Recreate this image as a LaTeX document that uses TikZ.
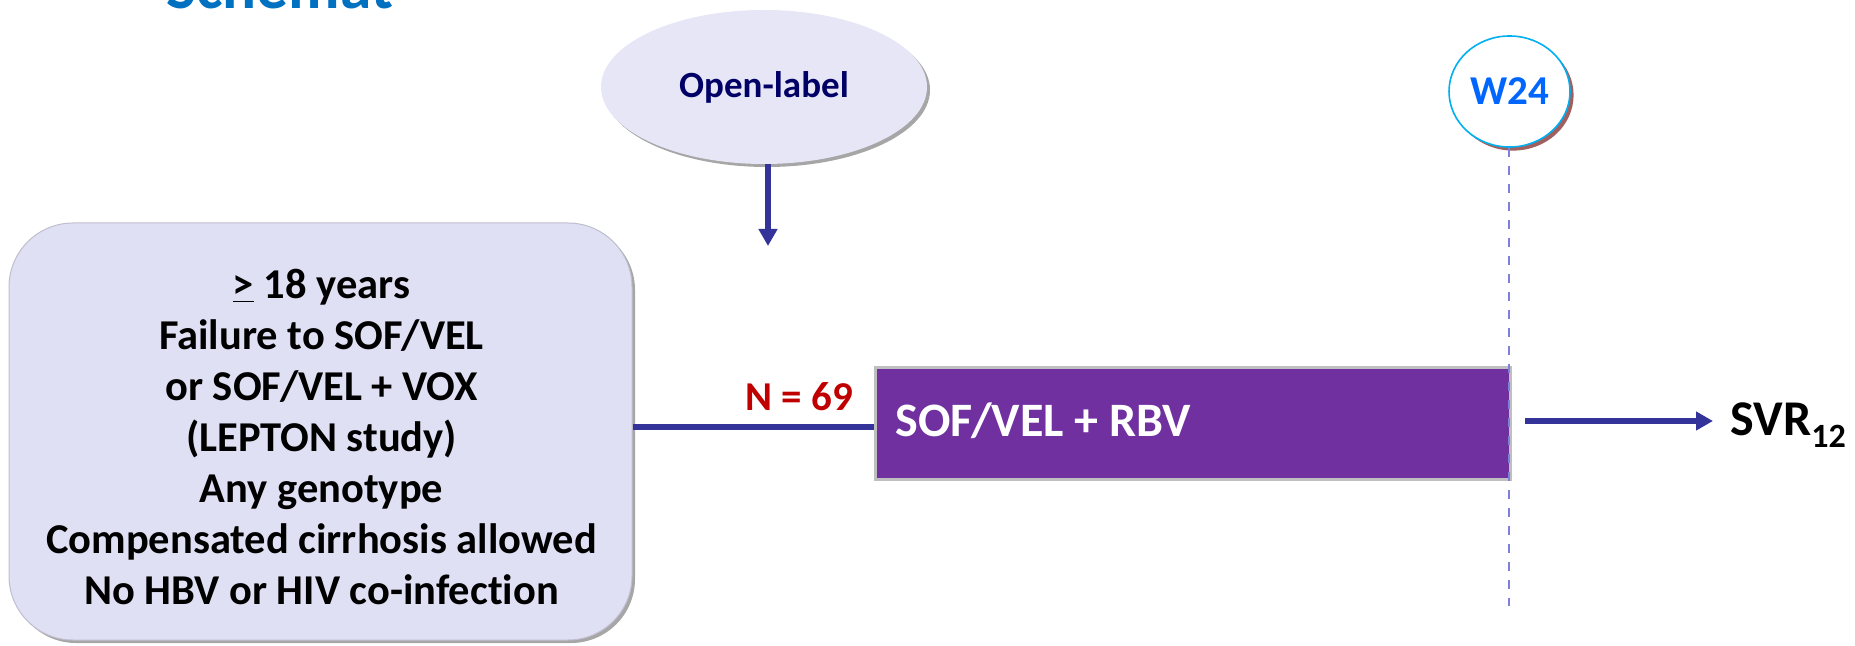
\documentclass[tikz,border=0pt]{standalone}
\usepackage{fontspec}
\setmainfont{Carlito}[Ligatures={NoCommon}]
\usetikzlibrary{shapes.geometric,arrows.meta,shadows}
\definecolor{titleblue}{HTML}{0070C0}
\definecolor{lav}{HTML}{E0E0F4}
\definecolor{lavell}{HTML}{E6E6F6}
\definecolor{navy}{HTML}{000066}
\definecolor{arrblue}{HTML}{333399}
\definecolor{purp}{HTML}{7030A0}
\definecolor{nred}{HTML}{C00000}
\definecolor{dashblue}{HTML}{7F7FDF}
\definecolor{ringcyan}{HTML}{00B0F0}
\definecolor{wblue}{HTML}{0066FF}
\definecolor{shadowbrown}{HTML}{A06060}
\begin{document}
\begin{tikzpicture}[x=0.5pt,y=-0.5pt,
  critbox/.style={rectangle, rounded corners=32pt, fill=lav, draw=lav!85!black, line width=0.5pt,
    minimum width=311.5pt, minimum height=208.5pt, inner sep=0pt,
    drop shadow={shadow xshift=1.5pt, shadow yshift=-1.5pt, fill=black!35, opacity=1}},
  crittext/.style={align=center, inner sep=0pt, font=\fontsize{21.25}{25.5}\selectfont\bfseries},
  openell/.style={ellipse, fill=lavell, minimum width=163pt, minimum height=77pt, inner sep=0pt,
    text=navy, font=\fontsize{18.5}{22}\selectfont\bfseries,
    drop shadow={shadow xshift=1.5pt, shadow yshift=-1.5pt, fill=black!35, opacity=1}},
  wcircle/.style={ellipse, draw=ringcyan, line width=0.8pt, fill=white, minimum width=60.5pt,
    minimum height=55.5pt, inner sep=0pt, text=wblue, font=\fontsize{20.5}{24}\selectfont\bfseries,
    drop shadow={shadow xshift=1.8pt, shadow yshift=-1.8pt, fill=shadowbrown, opacity=1}},
  trtbox/.style={rectangle, fill=purp, draw=black!25, line width=1.5pt,
    minimum width=317.5pt, minimum height=56pt, inner sep=0pt},
  arr/.style={draw=arrblue, line width=2.6pt, -{Triangle[width=9pt,length=8.5pt]}},
  conn/.style={draw=arrblue, line width=2.6pt},
  wline/.style={draw=dashblue, line width=1.2pt, dash pattern=on 4.5pt off 4.5pt},
  lbl/.style={anchor=base west, inner sep=0pt}
]
\useasboundingbox (0,0) rectangle (1855,646);

\node[lbl, text=titleblue, font=\fontsize{31.7}{36}\selectfont\bfseries] (title) at (166,9) {Schemat};

\node[critbox] (crit) at (320.5,431.5) {};
\node[crittext] (crittxt) at (321.5,437) {\underline{>} 18 years\\ Failure to SOF/VEL\\ or SOF/VEL + VOX\\ (LEPTON study)\\ Any genotype\\ Compensated cirrhosis allowed\\ No HBV or HIV co-infection};

\node[openell] (open) at (764,87) {Open-label};
\coordinate (downtip) at (768,246);
\draw[arr, line width=3pt] (open.south -| downtip) -- (downtip);

\node[trtbox] (trt) at (1193,423.5) {};
\node[lbl, text=white, font=\fontsize{24}{28}\selectfont\bfseries] (trtlbl) at (895,436) {SOF/VEL + RBV};

\coordinate (lineref) at (0,427);
\draw[conn] (crit.east |- lineref) -- (trt.west |- lineref);

\node[lbl, text=nred, font=\fontsize{20.5}{24}\selectfont\bfseries] (nlbl) at (745,410) {N = 69};

\node[wcircle] (w24) at (1509.5,91.5) {W24};
\coordinate (wend) at (1509,606);
\draw[wline] (w24.south -| wend) -- (wend);

\node[lbl, font=\fontsize{25}{30}\selectfont\bfseries] (svr) at (1730,435) {SVR\raisebox{-6pt}{\fontsize{17}{20}\selectfont 12}};
\coordinate (svrstart) at (1525,421);
\draw[arr, shorten >=8.5pt] (svrstart) -- (svr.west |- svrstart);
\end{tikzpicture}
\end{document}
